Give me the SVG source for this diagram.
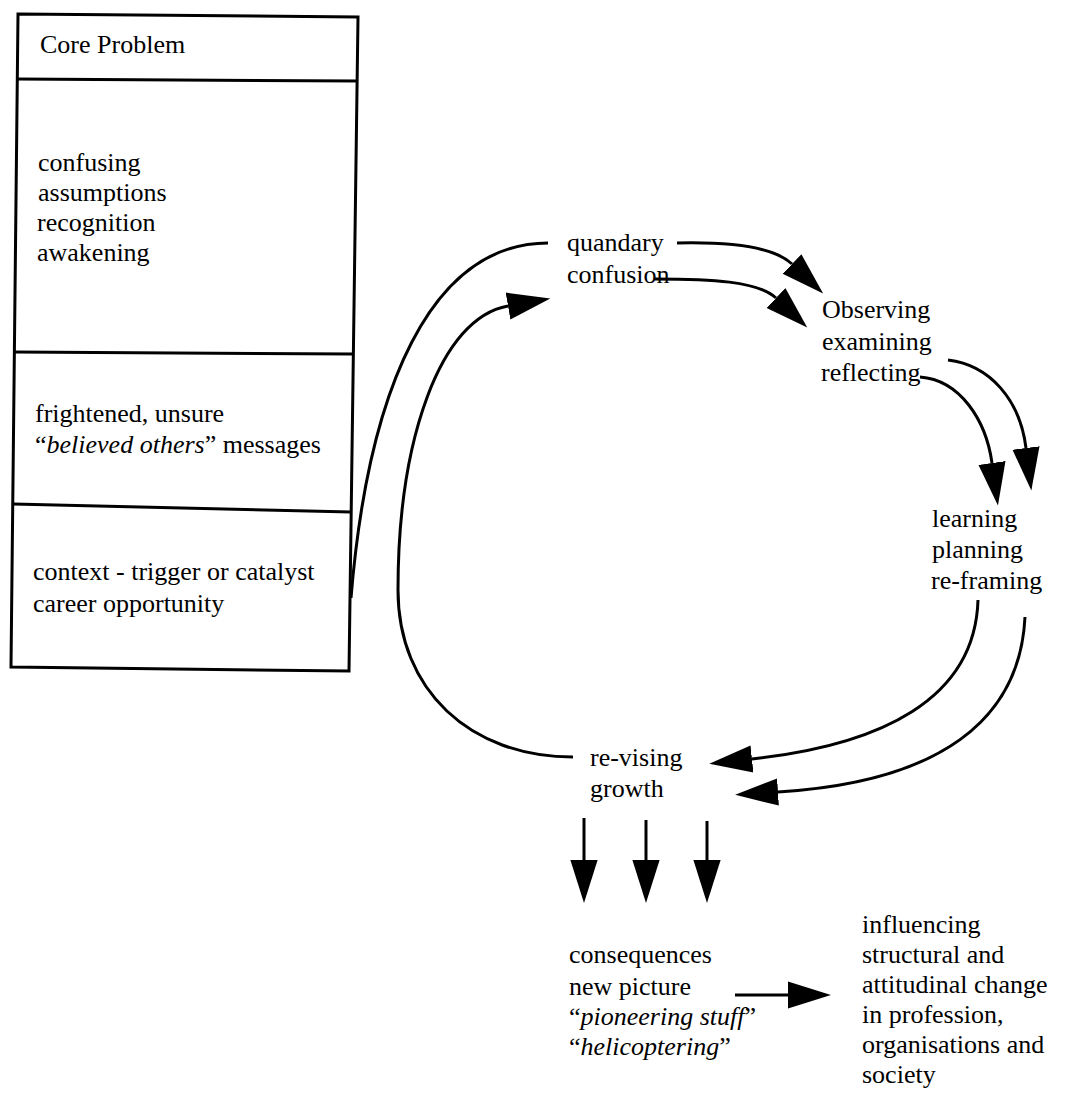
<svg xmlns="http://www.w3.org/2000/svg" width="1079" height="1097" viewBox="0 0 1079 1097">
  <style>
    text { font-family: "Liberation Serif", "Times New Roman", serif; font-size: 26px; fill: #000; }
    .it { font-style: italic; }
    .frame { fill: none; stroke: #000; stroke-width: 3; stroke-linejoin: miter; }
    .conn { fill: none; stroke: #000; stroke-width: 3; }
  </style>
  <defs>
    <marker id="head" markerUnits="userSpaceOnUse" markerWidth="44" markerHeight="30" viewBox="0 -14 42 28" refX="0" refY="0" orient="auto">
      <path d="M0,-13 L41,0 L0,13 z" fill="#000"/>
    </marker>
  </defs>

  <!-- Core problem column -->
  <g id="core-problem">
    <path class="frame" d="M18,14 L358,17 L349,671 L11,667 Z"/>
    <line class="frame" x1="17" y1="79" x2="358" y2="81"/>
    <line class="frame" x1="14" y1="352" x2="353" y2="354"/>
    <line class="frame" x1="13" y1="504" x2="351" y2="512"/>
    <text x="40" y="53">Core Problem</text>
  </g>
  <g id="awareness">
    <text x="38" y="171">confusing</text>
    <text x="38" y="201">assumptions</text>
    <text x="37" y="231">recognition</text>
    <text x="37" y="261">awakening</text>
  </g>
  <g id="feelings">
    <text x="35" y="422">frightened, unsure</text>
    <text x="35" y="453">“<tspan class="it">believed others</tspan>” messages</text>
  </g>
  <g id="context">
    <text x="33" y="580">context - trigger or catalyst</text>
    <text x="33" y="612">career opportunity</text>
  </g>

  <!-- Cycle stages -->
  <g id="quandary">
    <text x="567" y="251">quandary</text>
    <text x="567" y="283">confusion</text>
  </g>
  <g id="observing">
    <text x="822" y="318">Observing</text>
    <text x="822" y="350">examining</text>
    <text x="821" y="381">reflecting</text>
  </g>
  <g id="learning">
    <text x="932" y="527">learning</text>
    <text x="932" y="558">planning</text>
    <text x="931" y="589">re-framing</text>
  </g>
  <g id="revising">
    <text x="590" y="766">re-vising</text>
    <text x="590" y="797">growth</text>
  </g>
  <g id="consequences">
    <text x="569" y="963">consequences</text>
    <text x="569" y="995">new picture</text>
    <text x="569" y="1025">“<tspan class="it">pioneering stuff</tspan>”</text>
    <text x="569" y="1055">“<tspan class="it">helicoptering</tspan>”</text>
  </g>
  <g id="influencing">
    <text x="862" y="933">influencing</text>
    <text x="862" y="963">structural and</text>
    <text x="862" y="993">attitudinal change</text>
    <text x="862" y="1023">in profession,</text>
    <text x="862" y="1053">organisations and</text>
    <text x="862" y="1083">society</text>
  </g>

  <!-- Connectors -->
  <g id="connectors">
    <!-- context rising into the quandary -->
    <path class="conn" d="M351,598 C368,390 430,243 548,243"/>
    <!-- re-vising looping back to confusion -->
    <path class="conn" d="M573,757 C470,757 398,690 398,590 C398,440 440,318 508,306" marker-end="url(#head)"/>
    <!-- quandary / confusion to observing -->
    <path class="conn" d="M677,243 C720,242 772,245 792,264" marker-end="url(#head)"/>
    <path class="conn" d="M655,279 C710,279 758,281 776,298" marker-end="url(#head)"/>
    <!-- observing to learning -->
    <path class="conn" d="M920,377 C960,380 986,420 992,463" marker-end="url(#head)"/>
    <path class="conn" d="M948,360 C990,365 1020,400 1026,448" marker-end="url(#head)"/>
    <!-- learning back to re-vising -->
    <path class="conn" d="M978,600 C975,700 880,745 752,759" marker-end="url(#head)"/>
    <path class="conn" d="M1025,617 C1020,720 940,782 778,792" marker-end="url(#head)"/>
    <!-- re-vising down to consequences -->
    <path class="conn" d="M584,818 L584,860" marker-end="url(#head)"/>
    <path class="conn" d="M646,820 L646,860" marker-end="url(#head)"/>
    <path class="conn" d="M707,821 L707,860" marker-end="url(#head)"/>
    <!-- consequences to influencing -->
    <path class="conn" d="M735,995 L788,995" marker-end="url(#head)"/>
  </g>
</svg>
